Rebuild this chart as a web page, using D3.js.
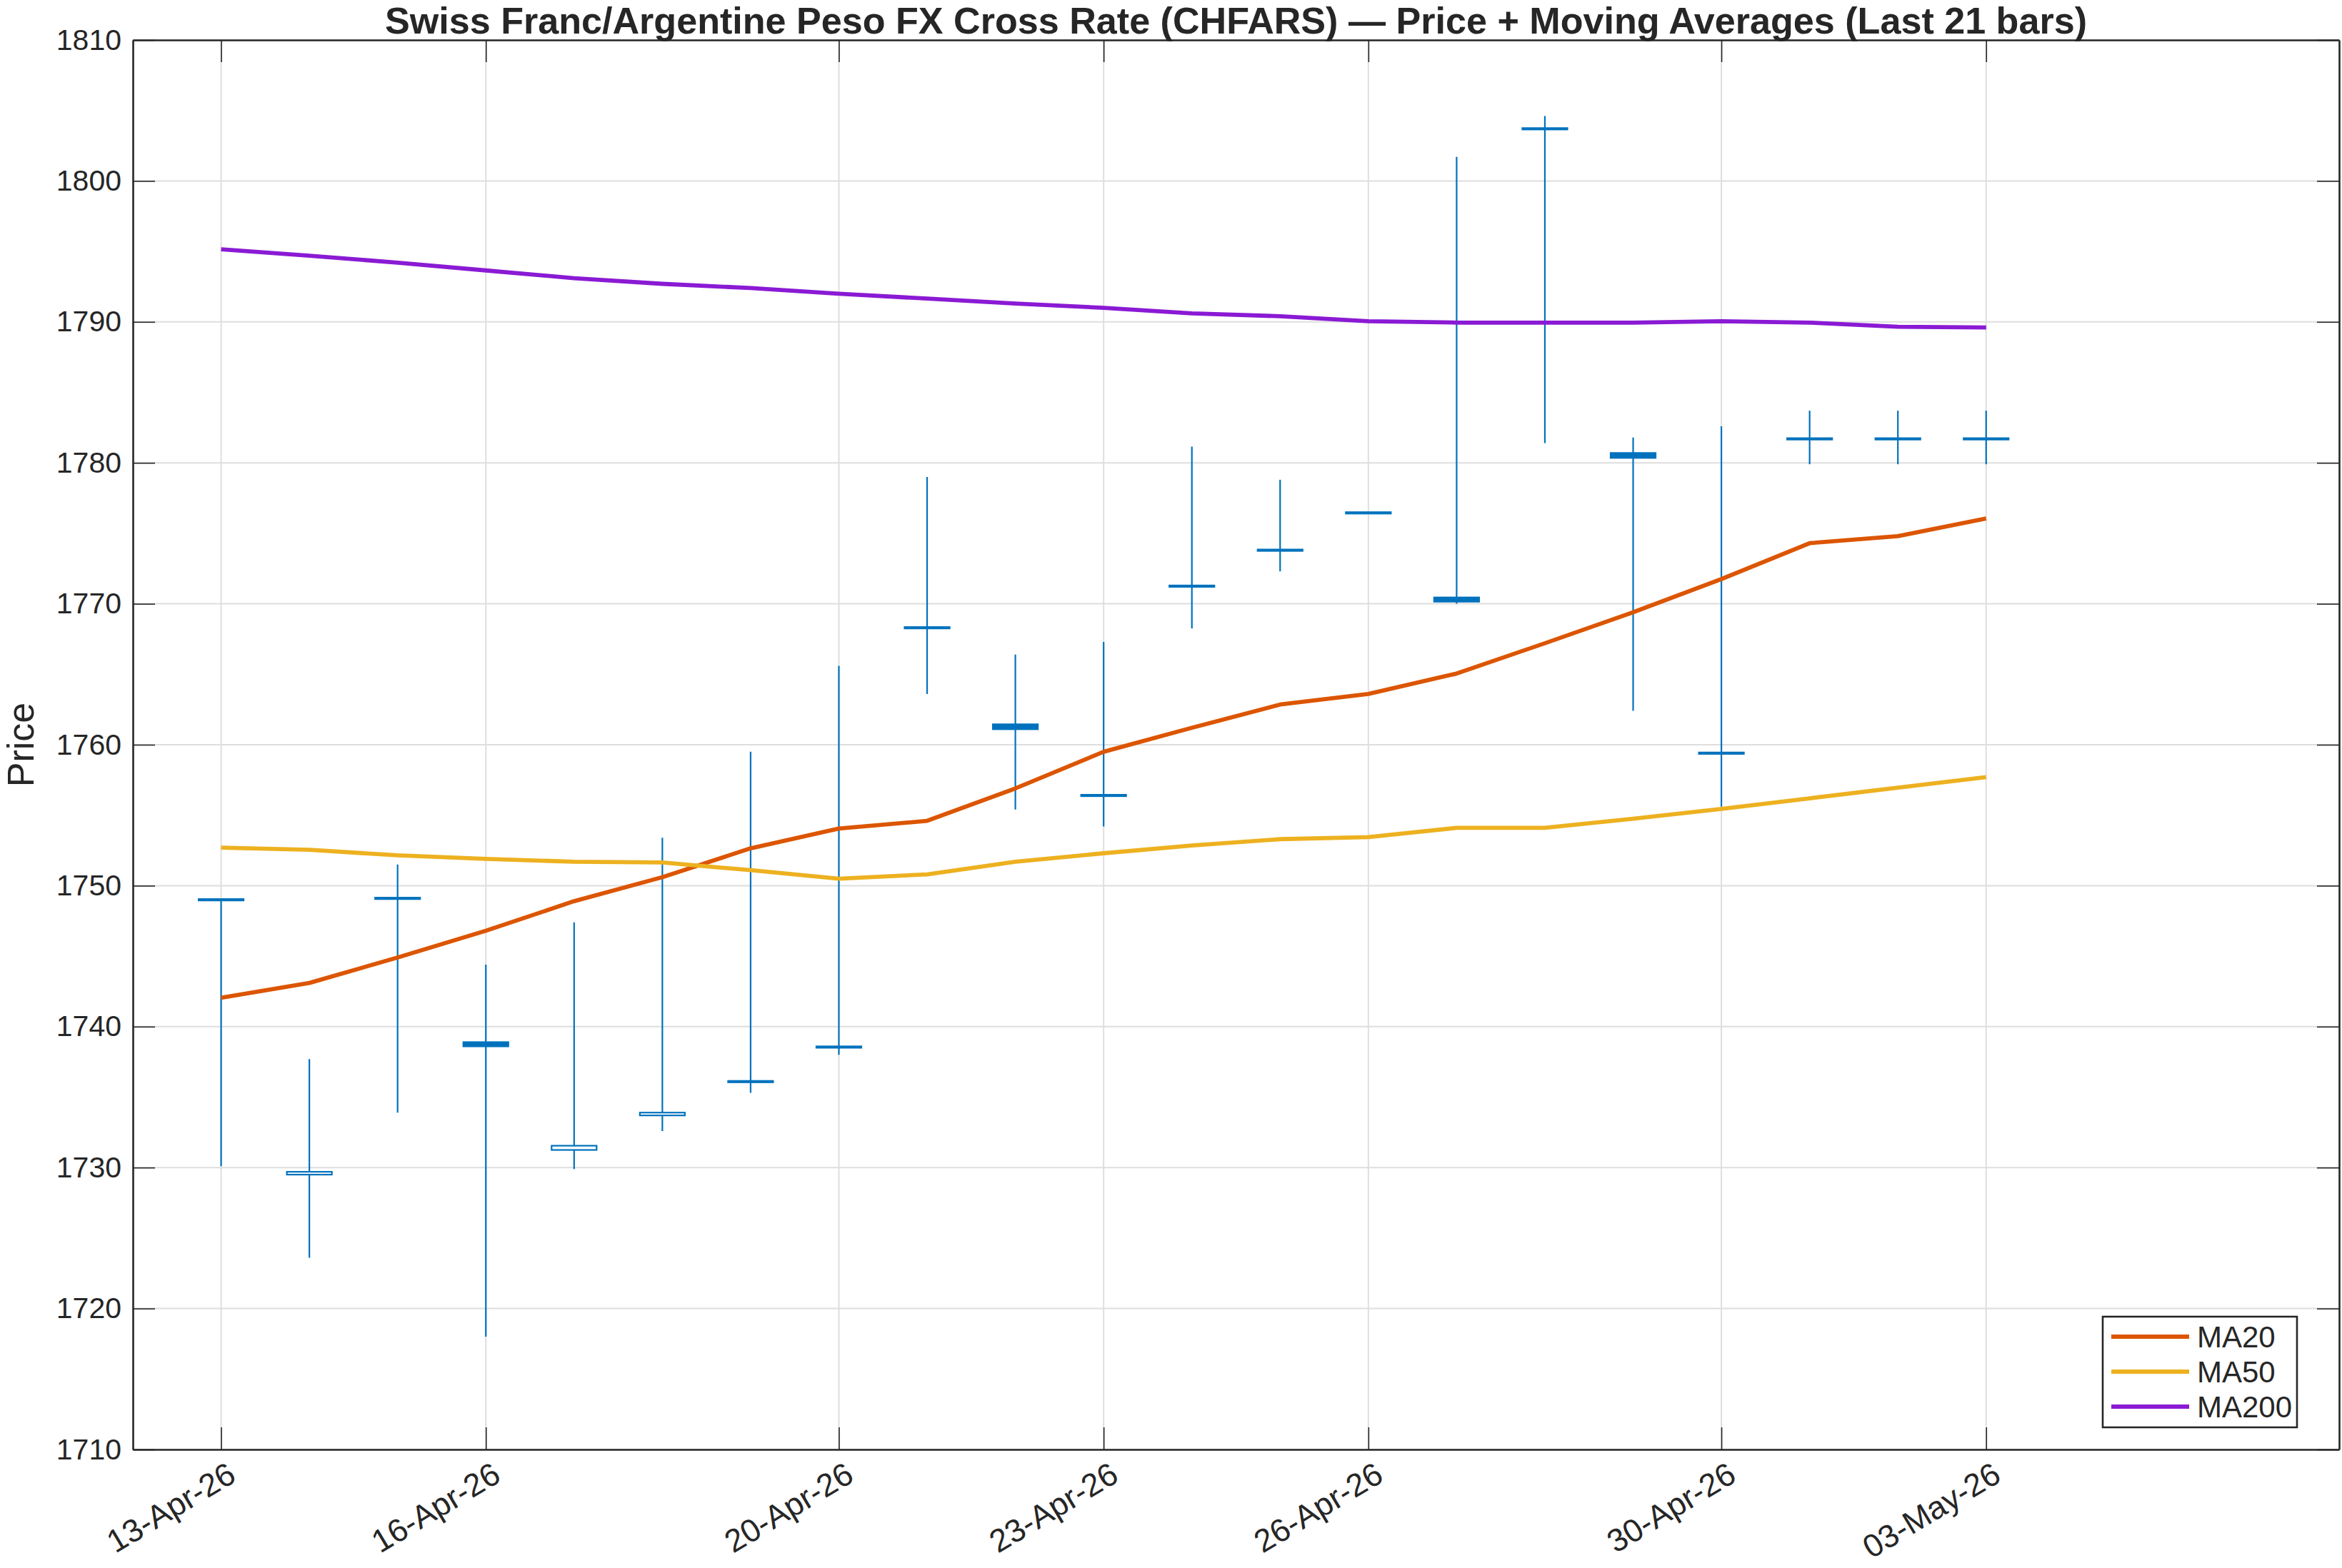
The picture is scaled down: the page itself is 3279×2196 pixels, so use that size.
<!DOCTYPE html>
<html>
<head>
<meta charset="utf-8">
<script src="https://cdn.jsdelivr.net/npm/d3@7"></script>
<style>
  body { margin: 0; background: #fff; }
  text { font-family: "Liberation Sans", Arial, Helvetica, sans-serif; fill: #262626; }
</style>
</head>
<body>
<div id="chart"></div>
<script>
// last 21 daily bars
const dates = ["2026-04-13","2026-04-14","2026-04-15","2026-04-16","2026-04-17","2026-04-18","2026-04-19",
  "2026-04-20","2026-04-21","2026-04-22","2026-04-23","2026-04-24","2026-04-25","2026-04-26",
  "2026-04-27","2026-04-28","2026-04-29","2026-04-30","2026-05-01","2026-05-02","2026-05-03"];
const openP  = [1749.05,1729.5,1749.15,1738.9,1731.25,1733.7,1736.15,1738.6,1768.35,1761.45,1756.45,1771.3,1773.85,1776.5,1770.45,1803.75,1780.7,1759.45,1781.75,1781.75,1781.75];
const highP  = [1749.1,1737.7,1751.5,1744.4,1747.4,1753.4,1759.5,1765.6,1779.0,1766.4,1767.3,1781.15,1778.8,1776.5,1801.7,1804.6,1781.8,1782.6,1783.7,1783.7,1783.7];
const lowP   = [1730.1,1723.6,1733.9,1718.0,1729.9,1732.6,1735.3,1738.0,1763.6,1755.4,1754.2,1768.25,1772.3,1776.4,1770.0,1781.4,1762.4,1755.6,1779.9,1779.9,1779.9];
const closeP = [1748.95,1729.7,1749.05,1738.6,1731.55,1733.9,1736.05,1738.5,1768.25,1761.1,1756.35,1771.2,1773.75,1776.4,1770.15,1803.65,1780.35,1759.35,1781.65,1781.65,1781.65];

const ma20  = [1742.05,1743.1,1744.9,1746.8,1748.9,1750.6,1752.65,1754.05,1754.6,1756.9,1759.5,1761.2,1762.85,1763.6,1765.05,1767.2,1769.4,1771.75,1774.3,1774.8,1776.05];
const ma50  = [1752.7,1752.55,1752.15,1751.9,1751.7,1751.65,1751.1,1750.5,1750.8,1751.7,1752.3,1752.85,1753.3,1753.45,1754.1,1754.1,1754.75,1755.45,1756.2,1756.95,1757.7];
const ma200 = [1795.15,1794.7,1794.2,1793.65,1793.1,1792.7,1792.4,1792.0,1791.65,1791.3,1791.0,1790.6,1790.4,1790.05,1789.95,1789.95,1789.95,1790.05,1789.95,1789.65,1789.6];

const xTickDates = ["2026-04-13","2026-04-16","2026-04-20","2026-04-23","2026-04-26","2026-04-30","2026-05-03"];
const yTicks = [1710,1720,1730,1740,1750,1760,1770,1780,1790,1800,1810];
const xLimits = ["2026-04-12","2026-05-07"];

const seriesNames = ["MA20","MA50","MA200"];
const seriesColors = ["#DC5500","#EDB120","#8A1AD4"];

const W = 3279, H = 2196;
const mLeft = 186, mRight = 3275, mTop = 56, mBottom = 2030;
const axisColor = "#262626";
const candleColor = "#0072BD";
const tickLen = 31;

const parse = d3.utcParse("%Y-%m-%d");
const fmt = d3.utcFormat("%d-%b-%y");

const x = d3.scaleUtc().domain(xLimits.map(parse)).range([mLeft, mRight]);
const y = d3.scaleLinear().domain([1710, 1810]).range([mBottom, mTop]);

const svg = d3.select("#chart").append("svg")
  .attr("width", W).attr("height", H)
  .style("background", "#fff");

// grid
svg.append("g").selectAll("line").data(yTicks).enter().append("line")
  .attr("x1", mLeft).attr("x2", mRight)
  .attr("y1", d => y(d)).attr("y2", d => y(d))
  .attr("stroke", "#dedede").attr("stroke-width", 2);
svg.append("g").selectAll("line").data(xTickDates).enter().append("line")
  .attr("x1", d => x(parse(d))).attr("x2", d => x(parse(d)))
  .attr("y1", mTop).attr("y2", mBottom)
  .attr("stroke", "#dedede").attr("stroke-width", 2);

// candles
const bars = dates.map((d, i) => ({
  date: parse(d), o: openP[i], h: highP[i], l: lowP[i], c: closeP[i]
}));
const dayW = x(parse(dates[1])) - x(parse(dates[0]));
const bodyW = dayW * 0.51;

const cg = svg.append("g");
cg.selectAll("line.wick").data(bars).enter().append("line")
  .attr("class", "wick")
  .attr("x1", d => x(d.date)).attr("x2", d => x(d.date))
  .attr("y1", d => y(d.h)).attr("y2", d => y(d.l))
  .attr("stroke", candleColor).attr("stroke-width", 2.2);
cg.selectAll("rect.body").data(bars).enter().append("rect")
  .attr("class", "body")
  .attr("x", d => x(d.date) - bodyW / 2)
  .attr("width", bodyW)
  .attr("y", d => y(Math.max(d.o, d.c)))
  .attr("height", d => Math.max(1, Math.abs(y(d.o) - y(d.c))))
  .attr("fill", d => d.c > d.o ? "#fff" : candleColor)
  .attr("stroke", candleColor).attr("stroke-width", 2.2);

// moving averages
const maData = [ma20, ma50, ma200];
const line = d3.line()
  .x((d, i) => x(parse(dates[i])))
  .y(d => y(d));
svg.append("g").selectAll("path").data(maData).enter().append("path")
  .attr("d", line)
  .attr("fill", "none")
  .attr("stroke", (d, i) => seriesColors[i])
  .attr("stroke-width", 5.8)
  .attr("stroke-linejoin", "round");

// axes (MATLAB-style box with inward ticks)
const xAxis = d3.axisBottom(x)
  .tickValues(xTickDates.map(parse))
  .tickFormat(fmt)
  .tickSizeInner(-tickLen).tickSizeOuter(0);
const gx = svg.append("g").attr("transform", `translate(0,${mBottom})`).call(xAxis);
gx.selectAll("text")
  .attr("y", 0).attr("dy", 0)
  .attr("text-anchor", "end")
  .attr("transform", "translate(23,43) rotate(-31)")
  .style("font-size", "45px");

const yAxis = d3.axisLeft(y)
  .tickValues(yTicks)
  .tickFormat(d3.format("d"))
  .tickSizeInner(-tickLen).tickSizeOuter(0)
  .tickPadding(16);
const gy = svg.append("g").attr("transform", `translate(${mLeft},0)`).call(yAxis);
gy.selectAll("text").style("font-size", "41px");

const gt = svg.append("g").attr("transform", `translate(0,${mTop})`)
  .call(d3.axisTop(x).tickValues(xTickDates.map(parse)).tickFormat("").tickSizeInner(-tickLen).tickSizeOuter(0));
const gr = svg.append("g").attr("transform", `translate(${mRight},0)`)
  .call(d3.axisRight(y).tickValues(yTicks).tickFormat("").tickSizeInner(-tickLen).tickSizeOuter(0));

[gx, gy, gt, gr].forEach(g => {
  g.select(".domain").attr("stroke", axisColor).attr("stroke-width", 2.6);
  g.selectAll(".tick line").attr("stroke", axisColor).attr("stroke-width", 1.6);
  g.selectAll("text").attr("fill", axisColor).style("font-family", "'Liberation Sans', Arial, sans-serif");
});

// labels
const title = svg.append("text")
  .attr("x", (mLeft + mRight) / 2).attr("y", 47)
  .attr("text-anchor", "middle")
  .style("font-weight", "bold").style("font-size", "46px")
  .attr("fill", "#000")
  .text("Swiss Franc/Argentine Peso FX Cross Rate (CHFARS) \u2014 Price + Moving Averages (Last 21 bars)");
const tw = title.node().getComputedTextLength();
title.style("font-size", (46 * 2382 / tw).toFixed(1) + "px");

svg.append("text")
  .attr("transform", `translate(47,${(mTop + mBottom) / 2}) rotate(-90)`)
  .attr("text-anchor", "middle")
  .style("font-size", "52px")
  .text("Price");

// legend
const lg = svg.append("g");
lg.append("rect")
  .attr("x", 2944).attr("y", 1844).attr("width", 272).attr("height", 155)
  .attr("fill", "#fff").attr("stroke", axisColor).attr("stroke-width", 2.6);
const rows = lg.selectAll("g.row").data(seriesNames).enter().append("g")
  .attr("class", "row")
  .attr("transform", (d, i) => `translate(2956,${1872 + i * 49})`);
rows.append("line")
  .attr("x1", 0).attr("x2", 109)
  .attr("stroke", (d, i) => seriesColors[i]).attr("stroke-width", 5.8);
rows.append("text")
  .attr("x", 120).attr("dy", "0.36em")
  .style("font-size", "42px")
  .text(d => d);
</script>
</body>
</html>
